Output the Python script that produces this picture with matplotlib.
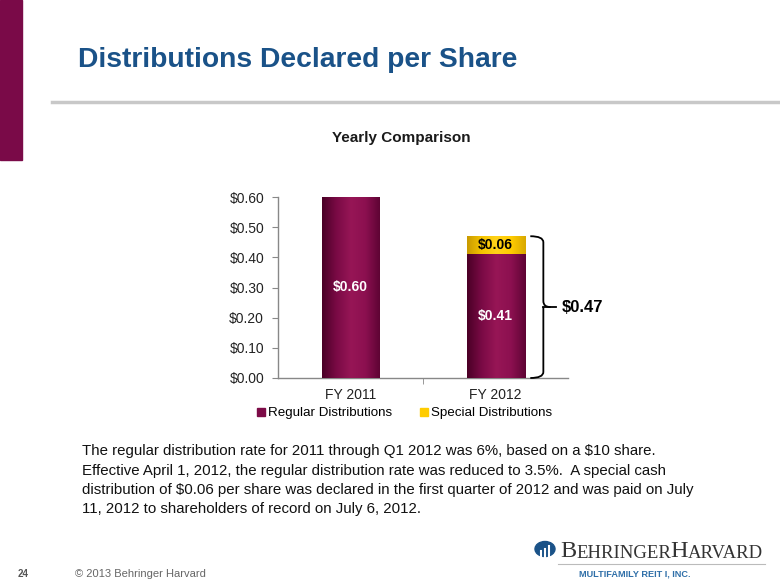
import numpy as np
import matplotlib
matplotlib.use("Agg")
import matplotlib.pyplot as plt
from matplotlib.path import Path
from matplotlib.patches import PathPatch, Rectangle, Circle
from matplotlib.colors import LinearSegmentedColormap
from matplotlib.lines import Line2D

plt.rcParams['font.family'] = ['Liberation Sans', 'DejaVu Sans']

# ---- data ----
categories = ["FY 2011", "FY 2012"]
regular = [0.60, 0.41]
special = [0.00, 0.06]
regular_labels = ["$0.60", "$0.41"]
special_labels = ["", "$0.06"]
total_label = "$0.47"
yticks = [0.0, 0.1, 0.2, 0.3, 0.4, 0.5, 0.6]
ytick_labels = ["$0.00", "$0.10", "$0.20", "$0.30", "$0.40", "$0.50", "$0.60"]
series_names = ["Regular Distributions", "Special Distributions"]

MAROON = "#7C0B47"
YELLOW = "#FFCC00"
NAVY = "#1A5288"

fig = plt.figure(figsize=(7.8, 5.85), dpi=100)

# ---- slide decorations ----
fig.patches.append(Rectangle((0, 1 - 160/585), 22/780, 160/585, transform=fig.transFigure,
                             color="#7A0A48", zorder=0))
fig.add_artist(Line2D([52/780, 1], [1 - 102/585]*2, transform=fig.transFigure,
                      color="#C8C8C8", lw=2.5))
fig.text(78/780, 1 - 60/585, "Distributions Declared per Share", fontsize=20.3, fontweight="bold",
         color=NAVY, ha="left", va="center")

fig.text(401/780, 1 - 138/585, "Yearly Comparison", fontsize=11, fontweight="bold",
         ha="center", va="center", color="#1a1a1a")

# ---- chart ----
ax = fig.add_axes([278/780, 1 - 378/585, 290/780, 181/585])
x = np.arange(len(categories))
w = 0.4
b1 = ax.bar(x, regular, width=w, color=MAROON, zorder=2)
b2 = ax.bar(x, special, width=w, bottom=regular, color=YELLOW, zorder=2)

# gradient shading clipped to bars
def shade(bars, cmap):
    grad = np.linspace(0, 1, 256).reshape(1, -1)
    for bar in bars:
        if bar.get_height() <= 0:
            continue
        x0, y0 = bar.get_x(), bar.get_y()
        im = ax.imshow(grad, extent=[x0, x0 + bar.get_width(), y0, y0 + bar.get_height()],
                       cmap=cmap, aspect="auto", zorder=3, interpolation="bilinear")
        im.set_clip_path(bar)

cm_m = LinearSegmentedColormap.from_list("m", ["#4A0026", "#7A0A45", "#971656", "#8C1050", "#5E0434"])
cm_y = LinearSegmentedColormap.from_list("y", ["#C89A00", "#F5C400", "#FFD21A", "#FFCC00", "#D8A800"])
shade(b1, cm_m)
shade(b2, cm_y)

for i in range(len(categories)):
    ax.text(x[i], regular[i] / 2, regular_labels[i], color="white",
            fontsize=10, fontweight="bold", ha="center", va="center", zorder=5)
    if special[i] > 0:
        ax.text(x[i], regular[i] + special[i] / 2, special_labels[i], color="black",
                fontsize=10, fontweight="bold", ha="center", va="center", zorder=5)

ax.set_xlim(-0.5, 1.5)
ax.set_ylim(0, 0.6)
ax.set_yticks(yticks)
ax.set_yticklabels(ytick_labels, fontsize=10, color="#222222")
ax.set_xticks(x)
ax.set_xticklabels(categories, fontsize=10, color="#222222")
ax.tick_params(axis="x", length=0, pad=7)
ax.tick_params(axis="y", length=4, color="#888888", pad=6)
ax.set_xticks([0.5], minor=True)
ax.tick_params(axis="x", which="minor", length=4, color="#888888")
for s in ["top", "right"]:
    ax.spines[s].set_visible(False)
for s in ["left", "bottom"]:
    ax.spines[s].set_color("#888888")
    ax.spines[s].set_linewidth(1)
ax.patch.set_alpha(0)

# brace
top = regular[1] + special[1]
mid = top / 2
xl, xv, xp = 1.24, 1.33, 1.40
d = 0.02
verts = [(xl, top), (xv, top), (xv, top - d), (xv, mid + d), (xv, mid), (xp - 0.02, mid),
         (xv, mid), (xv, mid - d), (xv, d), (xv, 0), (xl, 0)]
codes = [Path.MOVETO, Path.CURVE3, Path.CURVE3, Path.LINETO, Path.CURVE3, Path.CURVE3,
         Path.MOVETO, Path.CURVE3, Path.LINETO, Path.CURVE3, Path.CURVE3]
ax.add_patch(PathPatch(Path(verts, codes), fill=False, lw=1.3, color="black", clip_on=False, zorder=4))
ax.plot([xv, 1.42], [mid, mid], color="black", lw=1.3, clip_on=False)
ax.text(1.46, mid, total_label, fontsize=12, fontweight="bold", ha="left", va="center", clip_on=False)

# legend
handles = [Line2D([], [], marker="s", ls="", color=MAROON, markersize=6),
           Line2D([], [], marker="s", ls="", color=YELLOW, markersize=6)]
fig.legend(handles, series_names, loc="center", bbox_to_anchor=(404/780, 1 - 413/585), ncol=2,
           frameon=False, fontsize=9.6, handletextpad=0.1, columnspacing=2.0, handlelength=0.8)

# paragraph
para = ("The regular distribution rate for 2011 through Q1 2012 was 6%, based on a $10 share.\n"
        "Effective April 1, 2012, the regular distribution rate was reduced to 3.5%.  A special cash\n"
        "distribution of $0.06 per share was declared in the first quarter of 2012 and was paid on July\n"
        "11, 2012 to shareholders of record on July 6, 2012.")
fig.text(82/780, 1 - 444/585, para, fontsize=10.85, ha="left", va="top", linespacing=1.5,
         color="#111111")

# footer
fig.text(18/780, 1 - 574/585, "24", fontsize=7, fontweight="bold", color="#555555", va="center")
fig.text(75/780, 1 - 574/585, "\u00a9 2013 Behringer Harvard", fontsize=8, color="#666666", va="center")

# logo
fig.patches.append(Circle((545/780, 1 - 549/585), 10/780, transform=fig.transFigure, color=NAVY))
for k, h in enumerate([5, 7, 9]):
    xx = (541 + k * 4) / 780
    fig.add_artist(Line2D([xx, xx], [1 - 557/585, 1 - (557 - h * 1.2)/585],
                          transform=fig.transFigure, color="white", lw=1.5))
serif = dict(family="Liberation Serif", color="#333333", va="bottom", annotation_clip=False)
t1 = fig.text(560/780, 1 - 557/585, "B", fontsize=17.5, family="Liberation Serif", color="#333333",
              va="baseline")
a1 = plt.annotate("EHRINGER", xy=(1, 0), xycoords=t1, xytext=(0, 0), textcoords="offset points",
                  fontsize=13.5, **serif)
a2 = plt.annotate("H", xy=(1, 0), xycoords=a1, xytext=(-0.3, 0), textcoords="offset points",
                  fontsize=17.5, **serif)
plt.annotate("ARVARD", xy=(1, 0), xycoords=a2, xytext=(0, 0), textcoords="offset points",
             fontsize=13.5, **serif)
fig.add_artist(Line2D([558/780, 765/780], [1 - 564/585]*2, transform=fig.transFigure,
                      color="#BBBBBB", lw=0.8))
fig.text(579/780, 1 - 574/585, "MULTIFAMILY REIT I, INC.", fontsize=6.6, fontweight="bold",
         color="#2F6FA8", va="center")

fig.savefig("out.png", dpi=100)
